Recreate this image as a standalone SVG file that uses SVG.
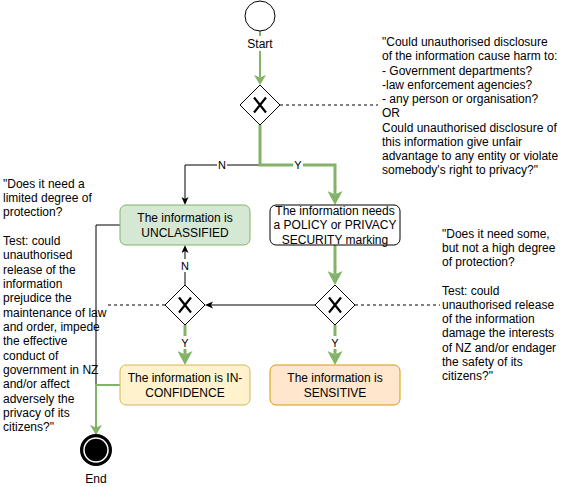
<svg xmlns="http://www.w3.org/2000/svg" width="561" height="487" viewBox="0 0 561 487">
<style>
text{font-family:"Liberation Sans",Arial,sans-serif;font-size:12px;fill:#000}
.c{text-anchor:middle}
.el{font-size:11px}
.bx{stroke-width:1}
.gw{fill:#fff;stroke:#000;stroke-width:1}
.gx{fill:none;stroke:#000;stroke-width:2.2}
.k{fill:none;stroke:#000;stroke-width:1}
.g2{fill:none;stroke:#82b366;stroke-width:2}
.g3{fill:none;stroke:#82b366;stroke-width:3}
.d{fill:none;stroke:#000;stroke-width:1;stroke-dasharray:3 3}
.lb{fill:#fff}
</style>
<defs>
<marker id="ak" markerUnits="userSpaceOnUse" markerWidth="9" markerHeight="8" refX="2" refY="3.5" orient="auto"><path d="M0,0 L8,3.5 L0,7 L2,3.5 Z" fill="#000"/></marker>
<marker id="gs" markerUnits="userSpaceOnUse" markerWidth="11" markerHeight="12" refX="2.5" refY="6" orient="auto"><path d="M0,0 L10,6 L0,12 L2.5,6 Z" fill="#82b366"/></marker>
<marker id="gl" markerUnits="userSpaceOnUse" markerWidth="15" markerHeight="15" refX="3.5" refY="7.5" orient="auto"><path d="M0,0 L14,7.5 L0,15 L3.5,7.5 Z" fill="#82b366"/></marker>
</defs>
<g id="connectors">
<path class="k" d="M260,165 H185 V199" marker-end="url(#ak)"/>
<path class="k" d="M315,305 H211" marker-end="url(#ak)"/>
<path class="k" d="M185,285 V251" marker-end="url(#ak)"/>
<path class="k" d="M120,225 H96 V429" marker-end="url(#ak)"/>
<path class="g2" d="M260,31 V77.5" marker-end="url(#gs)"/>
<path class="g3" d="M260,125 V165 H335 V194.5" marker-end="url(#gl)"/>
<path class="g3" d="M335,245 V274.5" marker-end="url(#gl)"/>
<path class="g3" d="M185,325 V354.5" marker-end="url(#gl)"/>
<path class="g3" d="M335,325 V354.5" marker-end="url(#gl)"/>
<path class="g2" d="M120,385 H96 V427.5" marker-end="url(#gs)"/>
<path class="d" d="M280,105 H378"/>
<path class="d" d="M355,305 H440"/>
<path class="d" d="M165,305 H108"/>
<rect class="lb" x="217" y="158" width="10" height="13"/>
<text class="c el" x="222" y="169">N</text>
<rect class="lb" x="293" y="158" width="10" height="13"/>
<text class="c el" x="298" y="169">Y</text>
<rect class="lb" x="180" y="259" width="10" height="13"/>
<text class="c el" x="185" y="270">N</text>
<rect class="lb" x="180" y="336" width="10" height="13"/>
<text class="c el" x="185" y="347">Y</text>
<rect class="lb" x="330" y="336" width="10" height="13"/>
<text class="c el" x="335" y="347">Y</text>
</g>
<g id="start">
<circle cx="260" cy="16" r="15" fill="#fff" stroke="#000" stroke-width="1"/>
<rect class="lb" x="246" y="36" width="28" height="15"/>
<text class="c" x="260" y="47.5">Start</text>
</g>
<g id="gateway1">
<path class="gw" d="M260,85 L280,105 L260,125 L240,105 Z"/>
<path class="gx" d="M254,97.5 L266,112.5 M266,97.5 L254,112.5"/>
</g>
<g id="gateway2">
<path class="gw" d="M335,285 L355,305 L335,325 L315,305 Z"/>
<path class="gx" d="M329,297.5 L341,312.5 M341,297.5 L329,312.5"/>
</g>
<g id="gateway3">
<path class="gw" d="M185,285 L205,305 L185,325 L165,305 Z"/>
<path class="gx" d="M179,297.5 L191,312.5 M191,297.5 L179,312.5"/>
</g>
<g id="unclassified">
<rect class="bx" x="120" y="205" width="130" height="40" rx="6" fill="#d5e8d4" stroke="#82b366"/>
<text class="c" x="185" y="222">The information is</text>
<text class="c" x="185" y="236.5">UNCLASSIFIED</text>
</g>
<g id="policy">
<rect class="bx" x="270" y="205" width="130" height="40" rx="6" fill="#fff" stroke="#000"/>
<text class="c" x="335" y="215">The information needs</text>
<text class="c" x="335" y="229.4">a POLICY or PRIVACY</text>
<text class="c" x="335" y="243.8">SECURITY marking</text>
</g>
<g id="inconfidence">
<rect class="bx" x="120" y="365" width="130" height="40" rx="6" fill="#fff2cc" stroke="#d6b656"/>
<text class="c" x="185" y="382">The information is IN-</text>
<text class="c" x="185" y="396.5">CONFIDENCE</text>
</g>
<g id="sensitive">
<rect class="bx" x="270" y="365" width="130" height="40" rx="6" fill="#ffe6cc" stroke="#d79b00"/>
<text class="c" x="335" y="382">The information is</text>
<text class="c" x="335" y="396.5">SENSITIVE</text>
</g>
<g id="end">
<circle cx="96" cy="450" r="15" fill="#000" stroke="#000" stroke-width="2"/>
<circle cx="96" cy="450" r="12" fill="#000" stroke="#fff" stroke-width="1.5"/>
<text class="c" x="96" y="483">End</text>
</g>
<g id="note1">
<text x="382" y="46">"Could unauthorised disclosure<tspan x="382" dy="14.26">of the information cause harm to:</tspan><tspan x="382" dy="14.26">- Government departments?</tspan><tspan x="382" dy="14.26">-law enforcement agencies?</tspan><tspan x="382" dy="14.26">- any person or organisation?</tspan><tspan x="382" dy="14.26">OR</tspan><tspan x="382" dy="14.26">Could unauthorised disclosure of</tspan><tspan x="382" dy="14.26">this information give unfair</tspan><tspan x="382" dy="14.26">advantage to any entity or violate</tspan><tspan x="382" dy="14.26">somebody's right to privacy?"</tspan></text>
</g>
<g id="note2">
<text x="3" y="187.6">"Does it need a<tspan x="3" dy="14.34">limited degree of</tspan><tspan x="3" dy="14.34">protection?</tspan><tspan x="3" dy="28.68">Test: could</tspan><tspan x="3" dy="14.34">unauthorised</tspan><tspan x="3" dy="14.34">release of the</tspan><tspan x="3" dy="14.34">information</tspan><tspan x="3" dy="14.34">prejudice the</tspan><tspan x="3" dy="14.34">maintenance of law</tspan><tspan x="3" dy="14.34">and order, impede</tspan><tspan x="3" dy="14.34">the effective</tspan><tspan x="3" dy="14.34">conduct of</tspan><tspan x="3" dy="14.34">government in NZ</tspan><tspan x="3" dy="14.34">and/or affect</tspan><tspan x="3" dy="14.34">adversely the</tspan><tspan x="3" dy="14.34">privacy of its</tspan><tspan x="3" dy="14.34">citizens?"</tspan></text>
</g>
<g id="note3">
<text x="442" y="237.6">"Does it need some,<tspan x="442" dy="14.27">but not a high degree</tspan><tspan x="442" dy="14.27">of protection?</tspan><tspan x="442" dy="28.54">Test: could</tspan><tspan x="442" dy="14.27">unauthorised release</tspan><tspan x="442" dy="14.27">of the information</tspan><tspan x="442" dy="14.27">damage the interests</tspan><tspan x="442" dy="14.27">of NZ and/or endager</tspan><tspan x="442" dy="14.27">the safety of its</tspan><tspan x="442" dy="14.27">citizens?"</tspan></text>
</g>
</svg>
